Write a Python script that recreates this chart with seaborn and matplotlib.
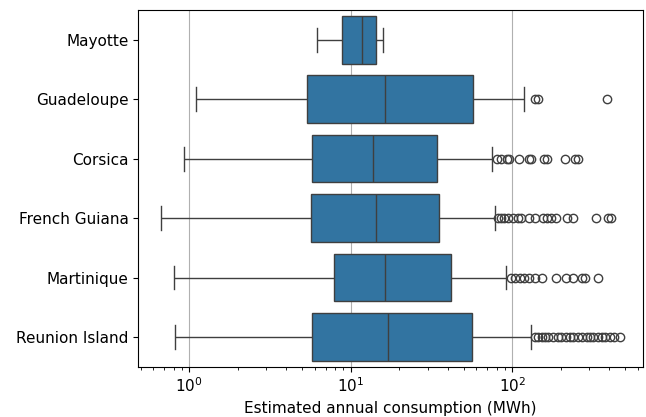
import matplotlib
matplotlib.use("Agg")
import matplotlib.pyplot as plt
import seaborn as sns
import pandas as pd

# regions, top to bottom
regions = ["Mayotte", "Guadeloupe", "Corsica", "French Guiana", "Martinique", "Reunion Island"]

# box summary (MWh)
whisker_low = [6.16, 1.10, 0.93, 0.67, 0.81, 0.82]
q1 = [8.81, 5.38, 5.78, 5.65, 7.91, 5.78]
median = [11.75, 16.2, 13.7, 14.3, 16.2, 17.1]
q3 = [14.36, 57.0, 34.4, 35.1, 41.8, 56.7]
whisker_high = [15.78, 119.0, 75.4, 78.4, 92.0, 131.0]

# outlier points per region (MWh)
out_mayotte = []
out_guadeloupe = [137.7, 145.0, 385.0]
out_corsica = [80.7, 85.4, 93.0, 96.2, 111.0, 126.5, 130.0, 157.0, 165.0, 212.0, 244.0, 256.0]
out_guiana = [81.4, 85.4, 89.5, 94.8, 101.0, 108.0, 114.0, 128.0, 138.0, 155.0,
              165.0, 175.0, 188.0, 220.0, 239.0, 329.0, 394.0, 410.0]
out_martinique = [97.7, 104.5, 111.6, 119.0, 128.0, 138.0, 153.0, 188.0, 214.0,
                  239.0, 269.0, 283.0, 342.0]
out_reunion = [138.0, 145.0, 152.0, 159.0, 167.0, 179.0, 193.0, 202.0, 217.0, 228.0, 239.0,
               257.0, 269.0, 289.0, 303.0, 318.0, 342.0, 359.0, 376.0, 404.0, 425.0, 466.0]
outliers = [out_mayotte, out_guadeloupe, out_corsica, out_guiana, out_martinique, out_reunion]


def sample_for(lo, a, m, b, hi, fliers):
    # sample whose quartiles / whiskers reproduce the read-off box
    n = 1 + len(fliers)
    return [lo] * n + [a] * n + [m] + [b] * n + [hi] + list(fliers)


rows = []
for i, name in enumerate(regions):
    vals = sample_for(whisker_low[i], q1[i], median[i], q3[i], whisker_high[i], outliers[i])
    rows += [(name, v) for v in vals]
df = pd.DataFrame(rows, columns=["region", "consumption"])

plt.rcParams["font.size"] = 11

fig, ax = plt.subplots(figsize=(6.46, 4.17), dpi=100)
sns.boxplot(data=df, x="consumption", y="region", order=regions, orient="h", ax=ax)
ax.set_xscale("log")
ax.set_xlabel("Estimated annual consumption (MWh)")
ax.set_ylabel("")
ax.xaxis.grid(True)
ax.set_axisbelow(True)
fig.subplots_adjust(left=0.214, right=0.9954, top=0.976, bottom=0.1206)
fig.savefig("out.png", dpi=100)
